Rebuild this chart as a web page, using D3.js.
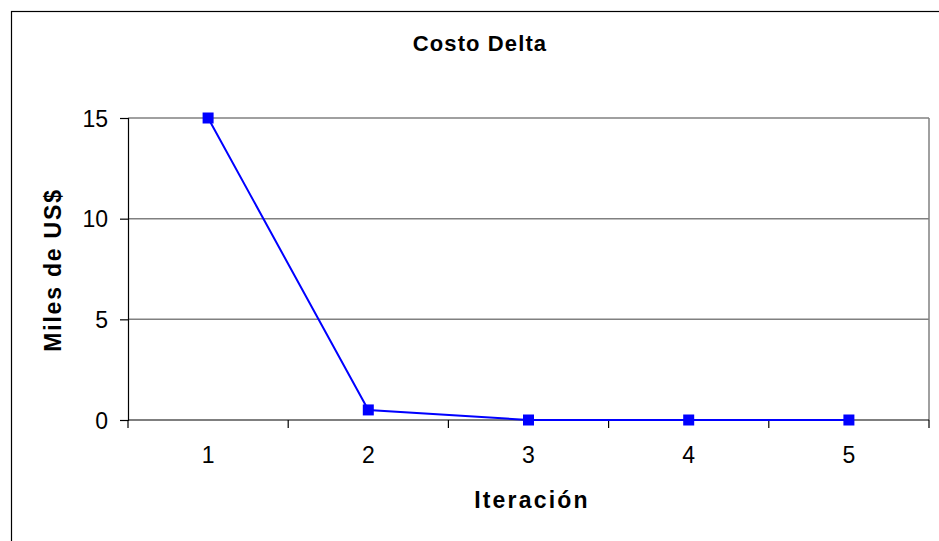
<!DOCTYPE html>
<html>
<head>
<meta charset="utf-8">
<script src="https://cdn.jsdelivr.net/npm/d3@7"></script>
<style>
  body { margin: 0; background: #fff; }
  text { font-family: Arial, "Liberation Sans", sans-serif; fill: #000; }
</style>
</head>
<body>
<div id="chart"></div>
<script>
// datos del grafico
var iteraciones = ["1", "2", "3", "4", "5"];
var costoDelta = [15, 0.5, 0, 0, 0];
var yTicks = [0, 5, 10, 15];

var W = 939, H = 541;
var margin = { top: 118, right: 10, bottom: 121, left: 128 };
var width = W - margin.left - margin.right;   // 801
var height = H - margin.top - margin.bottom;  // 302

var svg = d3.select("#chart")
    .append("svg")
    .attr("width", W)
    .attr("height", H);

// marco exterior
svg.append("rect")
    .attr("x", 11.5).attr("y", 11.5)
    .attr("width", W).attr("height", H)
    .attr("fill", "none")
    .attr("stroke", "#000")
    .attr("stroke-width", 1.2);

var g = svg.append("g")
    .attr("transform", "translate(" + margin.left + "," + margin.top + ")");

var xScale = d3.scaleBand().domain(iteraciones).range([0, width]);
var yScale = d3.scaleLinear().domain([0, 15]).range([height, 0]);

// lineas de cuadricula
g.selectAll(".grid")
    .data(yTicks.filter(function(d) { return d > 0; }))
    .enter().append("line")
    .attr("class", "grid")
    .attr("x1", 0).attr("x2", width)
    .attr("y1", function(d) { return yScale(d); })
    .attr("y2", function(d) { return yScale(d); })
    .attr("stroke", "#808080")
    .attr("stroke-width", 1.5);

// borde derecho del area de trazado
g.append("line")
    .attr("x1", width).attr("x2", width)
    .attr("y1", 0).attr("y2", height)
    .attr("stroke", "#808080")
    .attr("stroke-width", 1.5);

// eje Y
var yAxis = d3.axisLeft(yScale).tickValues(yTicks).tickSize(8).tickPadding(12);
var gy = g.append("g").call(yAxis);
gy.select(".domain").attr("stroke", "#000").attr("stroke-width", 1.2);
gy.selectAll(".tick line").attr("stroke", "#000").attr("stroke-width", 1.2);
gy.selectAll(".tick text")
    .style("font-size", "23px")
    .attr("dy", "0.36em");

// eje X
var xAxis = d3.axisBottom(xScale).tickSize(0).tickPadding(27);
var gx = g.append("g")
    .attr("transform", "translate(0," + height + ")")
    .call(xAxis);
gx.select(".domain").remove();
gx.selectAll(".tick text").style("font-size", "23px");

g.append("line")
    .attr("x1", 0).attr("x2", width)
    .attr("y1", height).attr("y2", height)
    .attr("stroke", "#000")
    .attr("stroke-width", 1.2);

// marcas entre categorias
var bordes = iteraciones.map(function(d) { return xScale(d); }).concat([width]);
g.selectAll(".xtick")
    .data(bordes)
    .enter().append("line")
    .attr("class", "xtick")
    .attr("x1", function(d) { return d; })
    .attr("x2", function(d) { return d; })
    .attr("y1", height).attr("y2", height + 8)
    .attr("stroke", "#000")
    .attr("stroke-width", 1.2);

// serie
var puntos = iteraciones.map(function(d, i) { return { x: d, y: costoDelta[i] }; });
var line = d3.line()
    .x(function(d) { return xScale(d.x) + xScale.bandwidth() / 2; })
    .y(function(d) { return yScale(d.y); });

g.append("path")
    .datum(puntos)
    .attr("d", line)
    .attr("fill", "none")
    .attr("stroke", "#0000ff")
    .attr("stroke-width", 2);

var ms = 11;
g.selectAll(".marker")
    .data(puntos)
    .enter().append("rect")
    .attr("class", "marker")
    .attr("x", function(d) { return xScale(d.x) + xScale.bandwidth() / 2 - ms / 2; })
    .attr("y", function(d) { return yScale(d.y) - ms / 2; })
    .attr("width", ms).attr("height", ms)
    .attr("fill", "#0000ff");

// titulos
svg.append("text")
    .attr("x", 480).attr("y", 51)
    .attr("text-anchor", "middle")
    .style("font-size", "22px")
    .style("font-weight", "bold")
    .style("letter-spacing", "1.1px")
    .text("Costo Delta");

svg.append("text")
    .attr("x", 532).attr("y", 508)
    .attr("text-anchor", "middle")
    .style("font-size", "23px")
    .style("font-weight", "bold")
    .style("letter-spacing", "2.2px")
    .text("Iteración");

svg.append("text")
    .attr("transform", "translate(61,270) rotate(-90)")
    .attr("text-anchor", "middle")
    .style("font-size", "23px")
    .style("font-weight", "bold")
    .style("letter-spacing", "1.8px")
    .text("Miles de US$");
</script>
</body>
</html>
